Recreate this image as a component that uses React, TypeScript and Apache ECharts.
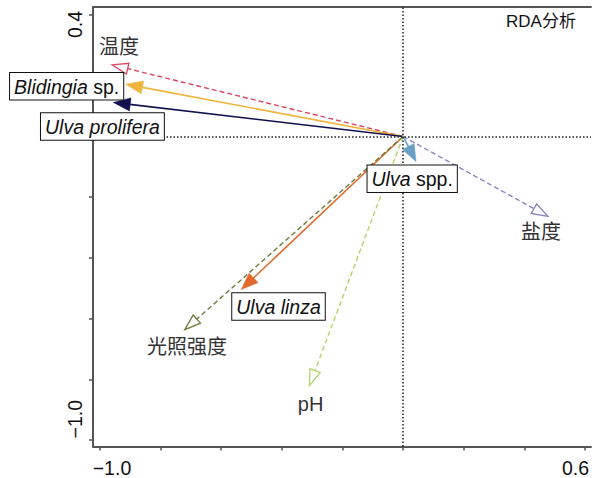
import React, { useEffect, useRef } from 'react';
import * as echarts from 'echarts';

// ---- data ----
const vectorNames = ['温度', 'Blidingia sp.', 'Ulva prolifera', 'Ulva spp.', '盐度', 'Ulva linza', '光照强度', 'pH'];
const vectorX = [-0.96, -0.915, -0.956, 0.043, 0.478, -0.534, -0.72, -0.309];
const vectorY = [0.236, 0.172, 0.112, -0.083, -0.263, -0.504, -0.636, -0.82];
const vectorKind = ['env', 'species', 'species', 'species', 'env', 'species', 'env', 'env'];
const labelX = [-0.9375, -1.11, -0.992, 0.03, 0.455, -0.411, -0.713, -0.305];
const labelY = [0.295, 0.165, 0.033, -0.139, -0.314, -0.56, -0.692, -0.88];
const xTicks = [-1.0, -0.8, -0.6, -0.4, -0.2, 0.0, 0.2, 0.4, 0.6];
const yTicks = [0.4, 0.2, 0.0, -0.2, -0.4, -0.6, -0.8, -1.0];
const xTickLabels = [-1.0, 0.6];
const yTickLabels = [0.4, -1.0];
const titleText = 'RDA分析';

// ---- styles ----
const vectorColors = ['#d9465f', '#efb43e', '#11114f', '#6b9ec6', '#8c84c2', '#e06a2c', '#6f7d3c', '#b3d46e'];
const labelRich: Record<string, string> = {
  'Blidingia sp.': '{i|Blidingia}{n| sp.}',
  'Ulva prolifera': '{i|Ulva prolifera}',
  'Ulva spp.': '{i|Ulva}{n| spp.}',
  'Ulva linza': '{i|Ulva linza}',
};

const X_MIN = -1.02305;
const X_MAX = 0.61975;
const Y_MIN = -1.0206;
const Y_MAX = 0.4263;

const LATIN = 'Liberation Sans, Arial, Noto Sans CJK SC, sans-serif';
const AX_FONT = 19.5;
const AXIS_COLOR = '#555';

const fmt = (v: number) => (v < 0 ? '\u2212' : '') + Math.abs(v).toFixed(1);

export default function App() {
  const ref = useRef<HTMLDivElement>(null);

  useEffect(() => {
    if (!ref.current) return;
    const chart = echarts.init(ref.current, undefined, { renderer: 'svg' });

    const arrowData = vectorX.map((x, i) => [x, vectorY[i]]);
    const labelData = labelX.map((x, i) => [x, labelY[i]]);

    const axisFontToken = { fontSize: AX_FONT, fontFamily: LATIN, color: '#111' };

    const option: any = {
      animation: false,
      title: {
        text: titleText,
        left: 506,
        top: 13,
        padding: 0,
        textStyle: { fontSize: 17, fontWeight: 'normal', color: '#111', fontFamily: LATIN },
      },
      grid: { left: 93, right: 0, top: 7, bottom: 31 },
      xAxis: [
        {
          type: 'value',
          min: X_MIN,
          max: X_MAX,
          axisLine: { show: true, onZero: false, lineStyle: { color: AXIS_COLOR, width: 2 } },
          axisTick: { show: true, length: 4, customValues: xTicks, lineStyle: { color: AXIS_COLOR, width: 1.5 } },
          axisLabel: {
            show: true,
            margin: 12,
            customValues: xTickLabels,
            formatter: (v: number) => (v === xTickLabels[0] ? '{a|' + fmt(v) + '}' : '{b|' + fmt(v) + '}'),
            rich: {
              a: { ...axisFontToken, padding: [0, 0, 0, 24] },
              b: { ...axisFontToken, padding: [0, 19, 0, 0] },
            },
          },
          splitLine: { show: false },
        },
        {
          type: 'value',
          position: 'top',
          min: X_MIN,
          max: X_MAX,
          axisLine: { show: true, onZero: false, lineStyle: { color: AXIS_COLOR, width: 2 } },
          axisTick: { show: false },
          axisLabel: { show: false },
          splitLine: { show: false },
        },
      ],
      yAxis: {
        type: 'value',
        min: Y_MIN,
        max: Y_MAX,
        axisLine: { show: true, onZero: false, lineStyle: { color: AXIS_COLOR, width: 2 } },
        axisTick: { show: true, length: 4, customValues: yTicks, lineStyle: { color: AXIS_COLOR, width: 1.5 } },
        axisLabel: {
          show: true,
          rotate: 90,
          margin: 8,
          customValues: yTickLabels,
          formatter: (v: number) => (v === yTickLabels[0] ? '{t|' + fmt(v) + '}' : '{b|' + fmt(v) + '}'),
          rich: {
            t: { ...axisFontToken, padding: [0, 19, 0, 0] },
            b: { ...axisFontToken, padding: [0, 0, 0, 42] },
          },
        },
        splitLine: { show: false },
      },
      series: [
        {
          type: 'custom',
          name: 'vectors',
          xAxisIndex: 0,
          yAxisIndex: 0,
          z: 2,
          data: arrowData,
          markLine: {
            silent: true,
            symbol: 'none',
            label: { show: false },
            lineStyle: { color: '#222', width: 1.5, type: [1.5, 2] },
            data: [{ xAxis: 0 }, { yAxis: 0 }],
          },
          renderItem: (params: any, api: any) => {
            const i = params.dataIndex;
            const o = api.coord([0, 0]);
            const t = api.coord([api.value(0), api.value(1)]);
            const dx = t[0] - o[0];
            const dy = t[1] - o[1];
            const len = Math.hypot(dx, dy);
            const ux = dx / len;
            const uy = dy / len;
            const px = -uy;
            const py = ux;
            const hollow = vectorKind[i] === 'env';
            const L = hollow ? 16 : 17;
            const W = hollow ? 5.5 : 6.5;
            const bx = t[0] - ux * L;
            const by = t[1] - uy * L;
            const color = vectorColors[i];
            const endX = hollow ? bx : t[0] - ux * L * 0.6;
            const endY = hollow ? by : t[1] - uy * L * 0.6;
            return {
              type: 'group',
              children: [
                {
                  type: 'line',
                  shape: { x1: o[0], y1: o[1], x2: endX, y2: endY },
                  style: {
                    stroke: color,
                    lineWidth: hollow ? 1.4 : 1.6,
                    lineDash: hollow ? [5, 3] : null,
                  },
                },
                {
                  type: 'polygon',
                  shape: {
                    points: [
                      [t[0], t[1]],
                      [bx + px * W, by + py * W],
                      [bx - px * W, by - py * W],
                    ],
                  },
                  style: hollow
                    ? { fill: '#fff', stroke: color, lineWidth: 1.3 }
                    : { fill: color, stroke: color, lineWidth: 0.5 },
                },
              ],
            };
          },
        },
        {
          type: 'custom',
          name: 'labels',
          xAxisIndex: 0,
          yAxisIndex: 0,
          z: 5,
          clip: false,
          data: labelData,
          renderItem: (params: any, api: any) => {
            const i = params.dataIndex;
            const c = api.coord([api.value(0), api.value(1)]);
            const name = vectorNames[i];
            const isSpecies = vectorKind[i] === 'species';
            if (isSpecies) {
              const tok = { fontSize: AX_FONT, fontFamily: LATIN, fill: '#111' };
              return {
                type: 'text',
                x: c[0],
                y: c[1],
                style: {
                  text: labelRich[name] || name,
                  fontSize: AX_FONT,
                  fontFamily: LATIN,
                  fill: '#111',
                  align: 'center',
                  verticalAlign: 'middle',
                  backgroundColor: '#fff',
                  borderColor: '#111',
                  borderWidth: 1,
                  padding: [4, 4, 3, 4],
                  rich: {
                    i: { ...tok, fontStyle: 'italic' },
                    n: { ...tok, fontStyle: 'normal' },
                  },
                },
              };
            }
            return {
              type: 'text',
              x: c[0],
              y: c[1],
              style: {
                text: name,
                fontSize: 20,
                fontFamily: LATIN,
                fill: '#333',
                align: 'center',
                verticalAlign: 'middle',
              },
            };
          },
        },
      ],
    };

    chart.setOption(option);
    return () => chart.dispose();
  }, []);

  return (
    <div
      ref={ref}
      style={{ position: 'fixed', left: 0, top: 0, width: 592, height: 478, background: '#fff' }}
    />
  );
}
